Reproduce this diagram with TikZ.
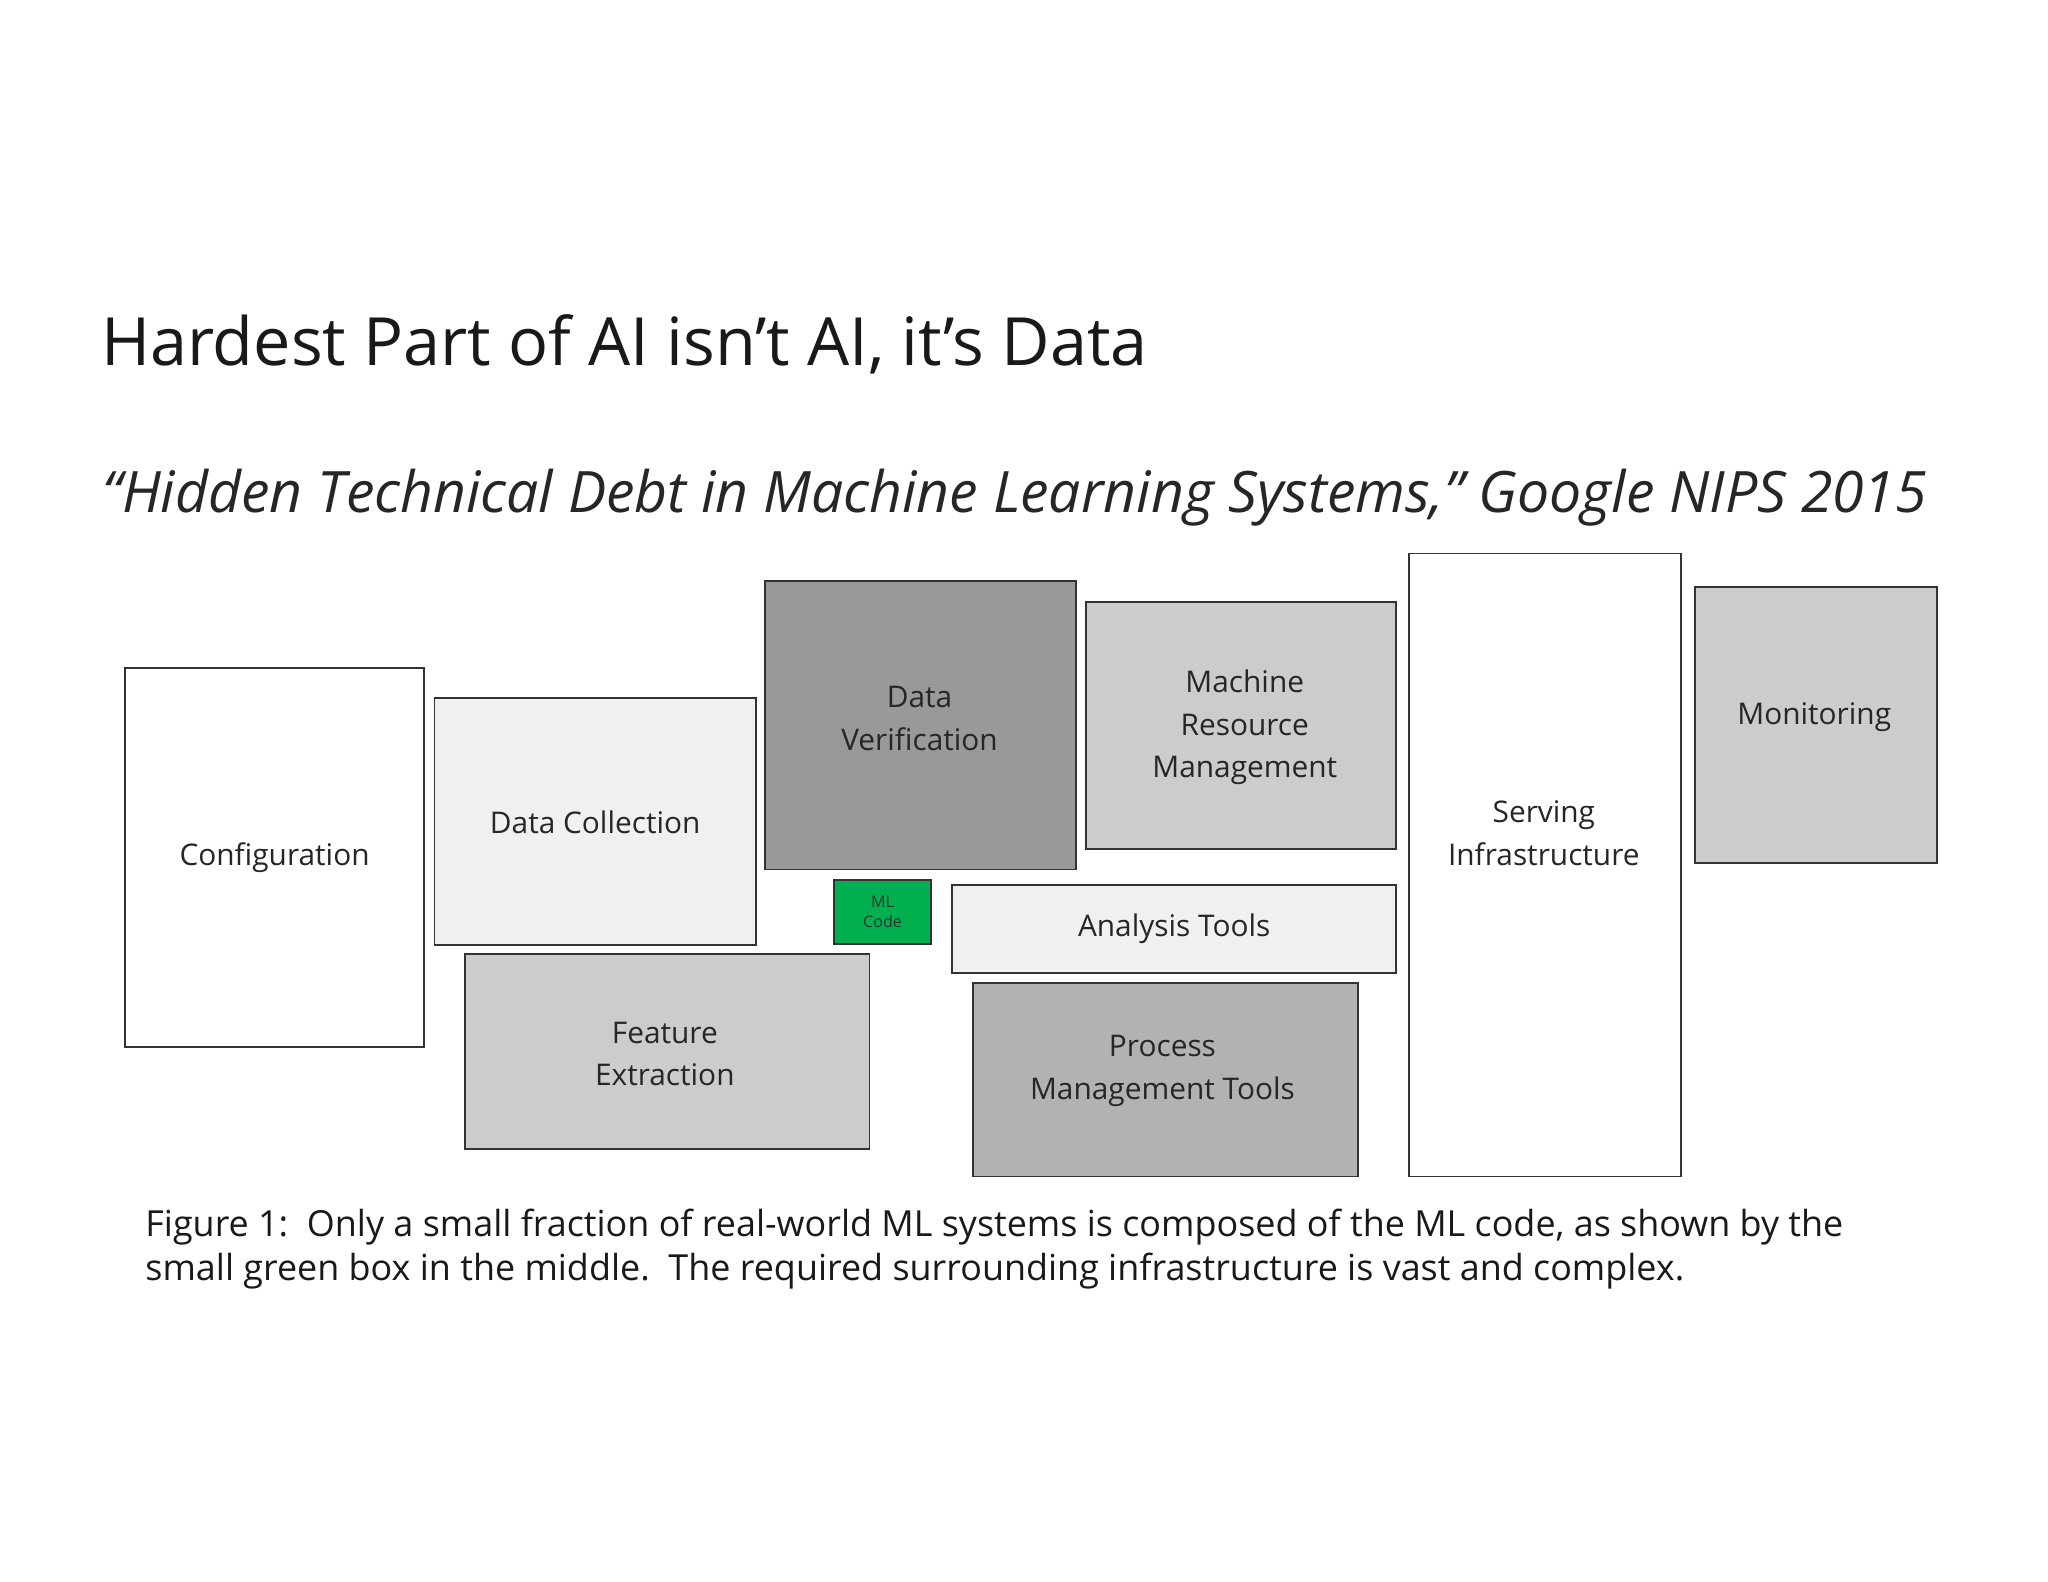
\documentclass[tikz,border=0pt]{standalone}
\usepackage{fontspec}
\setmainfont{Open Sans}
\definecolor{mlgreen}{HTML}{00B050}
\begin{document}
\begin{tikzpicture}[x=0.02cm,y=-0.02cm,
  blk/.style={draw=black!80,line width=0.8pt,align=center,inner sep=0pt,font=\fontsize{13}{18.5}\selectfont,text=black!85},
  ]
\useasboundingbox (0,0) rectangle (1568,1211);
\newcommand\bx[6]{\node[blk,fill=#6,minimum width={(#3-#2)*0.02cm},minimum height={(#5-#4)*0.02cm},anchor=north west] (#1) at (#2,#4) {};}
\bx{conf}{95}{324}{511}{801}{white}
\node at (conf.center) [blk,draw=none]{Configuration};
\bx{dc}{332}{578}{534}{723}{black!6}
\node at (dc.center) [blk,draw=none]{Data Collection};
\bx{dv}{585}{823}{444}{665}{black!40}
\node at (704,550) [blk,draw=none]{Data\\Verification};
\bx{mrm}{831}{1068}{460}{649}{black!20}
\node at (953,557) [blk,draw=none]{Machine\\Resource\\Management};
\bx{si}{1078}{1286}{423}{900}{white}
\node at (1182,638) [blk,draw=none]{Serving\\Infrastructure};
\bx{mon}{1297}{1482}{449}{660}{black!20}
\node at (1389,549) [blk,draw=none]{Monitoring};
\bx{ml}{638}{712}{673}{722}{mlgreen}
\node at (ml.center) [blk,draw=none,font=\fontsize{7}{9}\selectfont,text=black!80]{ML\\Code};
\bx{at}{728}{1068}{677}{744}{black!6}
\node at (899,711) [blk,draw=none]{Analysis Tools};
\bx{fe}{355}{665}{730}{879}{black!20}
\node at (509,807) [blk,draw=none]{Feature\\Extraction};
\bx{pm}{744}{1039}{752}{900}{black!30}
\node at (890,820) [blk,draw=none]{Process\\Management Tools};
\node[anchor=base west,inner sep=0pt,font=\fontsize{29}{35}\selectfont,text=black!90] (title) at (77,280) {Hardest Part of AI isn’t AI, it’s Data};
\node[anchor=base west,inner sep=0pt,font=\fontsize{24.9}{30}\itshape,text=black!85] (sub) at (78,392) {“Hidden Technical Debt in Machine Learning Systems,” Google NIPS 2015};
\node[anchor=north west,inner sep=0pt,align=left,font=\fontsize{15.65}{19.5}\selectfont,text=black!90] (cap) at (111,925) {Figure 1:\ \ Only a small fraction of real-world ML systems is composed of the ML code, as shown by the\\small green box in the middle.\ \ The required surrounding infrastructure is vast and complex.};
\end{tikzpicture}
\end{document}
